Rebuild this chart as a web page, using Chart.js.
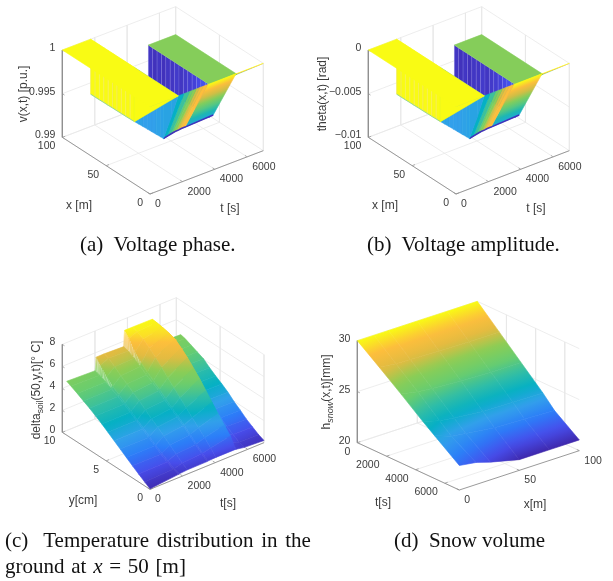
<!DOCTYPE html>
<html>
<head>
<meta charset="utf-8">
<script src="https://cdn.jsdelivr.net/npm/chart.js@4"></script>
<style>
html, body { margin: 0; background: #fff; }
#page { position: relative; width: 613px; height: 581px; overflow: hidden; filter: blur(.35px); }
canvas { position: absolute; }
.cap { position: absolute; font: 21px "Liberation Serif", serif; color: #111; white-space: pre; }
</style>
</head>
<body>
<div id="page">
  <canvas id="chartA" style="left:0;top:0" width="306" height="235"></canvas>
  <canvas id="chartB" style="left:306px;top:0" width="306" height="235"></canvas>
  <canvas id="chartC" style="left:0;top:280px" width="300" height="235"></canvas>
  <canvas id="chartD" style="left:300px;top:280px" width="313" height="235"></canvas>
  <div class="cap" style="left:80px;top:232px">(a)  Voltage phase.</div>
  <div class="cap" style="left:367px;top:232px">(b)  Voltage amplitude.</div>
  <div class="cap" style="left:5px;top:528px;word-spacing:2.4px">(c)  Temperature distribution in the</div>
  <div class="cap" style="left:5px;top:554px;word-spacing:1.5px">ground at <i>x</i> = 50 [m]</div>
  <div class="cap" style="left:394px;top:528px">(d)  Snow volume</div>
</div>
<script>
// panels a and b: the wall at the first step, x from 100 to 0
const wallX = [100,95,90,85,80,75,70,65,60,55,50,45,40,35,30,25,20,17,8,0];
const vWallFloor = [.9937,.9937,.9937,.99372,.99372,.99374,.99374,.99376,.99376,.99378,.9938,.99383,.99386,.99389,.99392,.99395,.99398,.994,.997,1];
const thetaWallFloor = [-.0063,-.0063,-.0063,-.00628,-.00628,-.00626,-.00626,-.00624,-.00624,-.00622,-.0062,-.00617,-.00614,-.00611,-.00608,-.00605,-.00602,-.006,-.003,0];
const wallShade = [1,1,1,1,1,1,1,1,1,1,.31,.31,.3,.3,.3,.31,.31,.32,.32];
// wall at the second step
const backX = [100,95,90,85,80,75,70,65,60,55,50,45,40,35,30];
const backShade = [.04,.03,.04,.03,.04,.04,.05,.04,.05,.06,.07,.09,.11,.14,.18];
const vBackFloor = .993, thetaBackFloor = -.007;
const vGreen = .9968, thetaGreen = -.0032;
// slope between the valley and x=0
const slopeT = [1750,2100,2450,2660,2870,3080,3290,3570,5312];
const slopeX = [17,19,21,22,23,24,25,26,26];
const vSlope = [.994,.9939,.9938,.99375,.9937,.9936,.99355,.99344,.9936];
const thetaSlope = [-.006,-.0061,-.0062,-.00625,-.0063,-.0064,-.00645,-.00656,-.0064];
const slopeShade = [.40,.52,.62,.70,.78,.85,.90];
const stepT = [0,1750,5312,7000];
const lineGreenX = 30;

// panel c
const soilY = [9.5,9,8.3,7.6,6.9,6.2,5.5,4.8,4.1,3.4,2.7,2,1.3,.6,0];
const soilT = [0,1750,1800,2300,3500,3550,4050,5250,5300,5800,7000];
const soilTemp = [
  [4.9,4.8,6.0,6.0,5.93,7.38,7.38,7.36,5.0,4.95,4.9],
  [4.7,4.65,5.5,5.85,5.8,6.9,7.2,7.32,4.95,4.85,4.8],
  [4.42,4.4,4.85,5.45,5.5,6.0,6.9,7.22,4.7,4.6,4.55],
  [4.1,4.1,4.35,5.0,5.1,5.4,6.45,7.1,4.45,4.35,4.3],
  [3.8,3.8,3.95,4.6,4.7,4.95,5.95,6.9,4.2,4.1,4.05],
  [3.45,3.45,3.55,4.2,4.35,4.5,5.4,6.45,3.8,3.65,3.6],
  [3.1,3.1,3.15,3.8,4.0,4.1,4.85,5.95,3.4,3.25,3.2],
  [2.7,2.7,2.75,3.35,3.5,3.6,4.3,5.35,3.0,2.9,2.85],
  [2.3,2.3,2.35,2.9,3.1,3.15,3.75,4.75,2.6,2.5,2.45],
  [1.9,1.9,1.95,2.5,2.7,2.75,3.2,4.05,2.15,2.0,1.95],
  [1.5,1.5,1.55,2.05,2.25,2.3,2.65,3.35,1.75,1.6,1.55],
  [1.1,1.1,1.15,1.6,1.75,1.8,2.1,2.65,1.35,1.15,1.1],
  [.72,.75,.8,1.15,1.25,1.3,1.55,2.0,1.0,.8,.75],
  [.35,.45,.47,.7,.8,.82,1.0,1.35,.7,.45,.4],
  [.05,.3,.32,.38,.4,.42,.45,.45,.43,.3,.2]
];
const wallRows = [0,1,2];
const wallCols = [1,4];

// panel d
const snowX = [0,14,26,50,75,100];
const snowT = [0,1500,3000,4500,5300,7000];
const snowH = [
  [30,30,30,30,30,30],
  [28.4,28.2,28.15,28.05,28.0,28.0],
  [26.75,26.45,26.3,26.1,26.0,26.0],
  [25.05,24.6,24.4,24.1,24.05,24.0],
  [24.2,23.6,23.4,23.05,22.95,22.8],
  [22.4,22.16,21.73,21.05,21.05,21.05]
];

const vTicks = [.99,.995,1], vLabels = ['0.99','0.995','1'];
const thetaTicks = [-.01,-.005,0], thetaLabels = ['\u22120.01','\u22120.005','0'];
const xTicks = [0,50,100], xLabels = ['0','50','100'];
const tTicks = [0,2000,4000,6000], tLabels = ['0','2000','4000','6000'];
const soilTicks = [0,2,4,6,8], soilLabels = ['0','2','4','6','8'];
const yTicks = [0,5,10], yLabels = ['0','5','10'];
const snowTicks = [20,25,30], snowLabels = ['20','25','30'];

// parula
const parulaStops = [[62,38,168],[71,77,235],[44,125,248],[50,160,235],[5,176,196],[50,190,165],[105,205,110],[140,205,85],[225,187,65],[253,190,60],[249,251,20]];
function parula(f) {
    f = Math.min(1, Math.max(0, f)) * 10;
    const i = Math.min(9, Math.floor(f)), k = f - i;
    const a = parulaStops[i], b = parulaStops[i + 1];
    return 'rgb(' + a.map((c, n) => Math.round(c + (b[n] - c) * k)).join(',') + ')';
}

function makePanel(cfg) {
    const p = Object.assign({ sets: [], texts: [] }, cfg);
    p.ctx = document.getElementById(cfg.id).getContext('2d');
    p.at = (u, v, w) => ({ x: p.ox + p.ux * u + p.vx * v, y: p.oy + p.uy * u + p.vy * v - p.h * w });
    p.pt = (a, b, z) => { const m = p.map(a, b, z); return p.at(m[0], m[1], m[2]); };
    return p;
}

function addPoly(p, pts, color, edge, edgeW) {
    p.sets.push({
        data: pts.concat([pts[0]]), showLine: true, fill: 'shape', tension: 0, pointRadius: 0, clip: false,
        backgroundColor: color, borderColor: edge || color, borderWidth: edgeW === undefined ? .6 : edgeW
    });
}
function addLine(p, pts, color, w) {
    p.sets.push({ data: pts, showLine: true, fill: false, tension: 0, pointRadius: 0, clip: false, borderColor: color, borderWidth: w });
}

// fills a face with the colormap running across its own slope
function shaded(p, pts, vals, contrast) {
    const n = pts.length;
    const mx = pts.reduce((s, q) => s + q.x, 0) / n, my = pts.reduce((s, q) => s + q.y, 0) / n, mz = vals.reduce((s, q) => s + q, 0) / n;
    if (contrast) vals = vals.map(q => mz + (q - mz) * contrast);
    let sxx = 0, sxy = 0, syy = 0, sxz = 0, syz = 0;
    pts.forEach((q, i) => {
        const dx = q.x - mx, dy = q.y - my, dz = vals[i] - mz;
        sxx += dx * dx; sxy += dx * dy; syy += dy * dy; sxz += dx * dz; syz += dy * dz;
    });
    const det = sxx * syy - sxy * sxy;
    const lo = Math.min(...vals), hi = Math.max(...vals);
    if (Math.abs(det) < 1e-6 || hi - lo < 1e-6) return parula(p.shade(mz));
    const ga = (syy * sxz - sxy * syz) / det, gb = (sxx * syz - sxy * sxz) / det, g2 = ga * ga + gb * gb;
    const grad = p.ctx.createLinearGradient(mx + ga * (lo - mz) / g2, my + gb * (lo - mz) / g2, mx + ga * (hi - mz) / g2, my + gb * (hi - mz) / g2);
    for (let i = 0; i <= 6; i++) grad.addColorStop(i / 6, parula(p.shade(lo + (hi - lo) * i / 6)));
    return grad;
}

function addBox(p, uTicks, uLabels, vTickVals, vLabelsIn, zTicks, zLabels, uOf, vOf, wOf) {
    const gridC = '#e8e8e8', axisC = '#8e8e8e';
    zTicks.forEach((z, i) => {
        const w = wOf(z);
        addLine(p, [p.at(0, 0, w), p.at(0, 1, w), p.at(1, 1, w)], gridC, .8);
        addLine(p, [p.at(0, 0, w), p.at(.025, 0, w)], axisC, .7);
        p.texts.push({ text: zLabels[i], pos: p.at(0, 0, w), dx: -7, dy: -2, align: 'right' });
    });
    vTickVals.forEach((t, i) => {
        const v = vOf(t);
        addLine(p, [p.at(0, v, 1), p.at(0, v, 0), p.at(1, v, 0)], gridC, .8);
        addLine(p, [p.at(1, v, 0), p.at(.975, v, 0)], axisC, .7);
        p.texts.push({ text: vLabelsIn[i], pos: p.at(1, v, 0), dx: 5, dy: 10, align: 'left' });
    });
    uTicks.forEach((x, i) => {
        const u = uOf(x);
        addLine(p, [p.at(u, 1, 1), p.at(u, 1, 0), p.at(u, 0, 0)], gridC, .8);
        addLine(p, [p.at(u, 0, 0), p.at(u, .025, 0)], axisC, .7);
        p.texts.push({ text: uLabels[i], pos: p.at(u, 0, 0), dx: -7, dy: 9, align: 'right' });
    });
    addLine(p, [p.at(0, 0, 1), p.at(0, 0, 0), p.at(1, 0, 0), p.at(1, 1, 0)], axisC, .9);
}

function addVoltage(p, floor, backFloor, top, green, slope) {
    const pt = p.pt;
    // wall at the second step
    for (let i = 0; i + 1 < backX.length; i++) {
        const c = parula(backShade[i]);
        addPoly(p, [pt(backX[i], stepT[2], green), pt(backX[i + 1], stepT[2], green), pt(backX[i + 1], stepT[2], backFloor), pt(backX[i], stepT[2], backFloor)], c, 'rgba(150,140,235,.3)', .5);
    }
    // green top and the wedge up to x=0
    addPoly(p, [pt(100, stepT[2], green), pt(100, stepT[3], green), pt(lineGreenX, stepT[3], green), pt(lineGreenX, stepT[2], green)], parula(p.shade(green)));
    const wedge = [pt(lineGreenX, stepT[2], green), pt(lineGreenX, stepT[3], green), pt(0, stepT[3], top), pt(0, stepT[2], top)];
    addPoly(p, wedge, shaded(p, wedge, [green, green, top, top]));
    // underside of the slope, last part smooth
    const n = slopeT.length - 1;
    const last = [pt(slopeX[n - 1], slopeT[n - 1], slope[n - 1]), pt(slopeX[n], slopeT[n], slope[n]), pt(0, slopeT[n], top), pt(0, slopeT[n - 1], top)];
    addPoly(p, last, shaded(p, last, [slope[n - 1], slope[n], top, top]));
    for (let i = n - 2; i >= 0; i--) {
        addPoly(p, [pt(slopeX[i], slopeT[i], slope[i]), pt(slopeX[i + 1], slopeT[i + 1], slope[i + 1]), pt(0, slopeT[i + 1], top), pt(0, slopeT[i], top)], parula(slopeShade[i]));
    }
    addLine(p, slopeX.map((x, i) => pt(x, slopeT[i], slope[i])), parula(.03), 1.6);
    // wall at the first step
    for (let i = 0; i + 1 < wallX.length; i++) {
        addPoly(p, [pt(wallX[i], stepT[1], floor[i]), pt(wallX[i + 1], stepT[1], floor[i + 1]), pt(wallX[i + 1], stepT[1], top), pt(wallX[i], stepT[1], top)], parula(wallShade[i]), wallShade[i] === 1 ? '#f4ee55' : parula(wallShade[i]), .4);
    }
    addLine(p, wallX.slice(0, 11).map((x, i) => pt(x, stepT[1], floor[i])), '#7ccfa0', .8);
    // yellow top
    addPoly(p, [pt(50, stepT[1], floor[10]), pt(0, stepT[1], top), pt(0, stepT[0], top), pt(50, stepT[1], top)], parula(1));
    addPoly(p, [pt(100, stepT[0], top), pt(100, stepT[1], top), pt(0, stepT[1], top), pt(0, stepT[0], top)], parula(1));
}

// grid surface, faces sorted back to front
function addSurface(p, rows, cols, val, depth, contrast, isWall) {
    const faces = [];
    for (let r = 0; r + 1 < rows.length; r++) {
        for (let c = 0; c + 1 < cols.length; c++) {
            const pts = [[r, c], [r, c + 1], [r + 1, c + 1], [r + 1, c]];
            faces.push({ r, c, pts, d: depth(rows[r] / 2 + rows[r + 1] / 2, cols[c] / 2 + cols[c + 1] / 2) });
        }
    }
    faces.sort((a, b) => a.d - b.d);
    faces.forEach(f => {
        const verts = f.pts.map(q => p.pt(rows[q[0]], cols[q[1]], val[q[0]][q[1]]));
        const vals = f.pts.map(q => val[q[0]][q[1]]);
        addPoly(p, verts, shaded(p, verts, vals, contrast));
        // mesh lines showing through on the steep steps
        if (isWall && isWall(f.r, f.c)) {
            for (let k = 0; k < 5; k++) {
                const s = k / 5, a = verts[0], b = verts[1], d = verts[3], e = verts[2];
                addLine(p, [{ x: a.x + (d.x - a.x) * s, y: a.y + (d.y - a.y) * s }, { x: b.x + (e.x - b.x) * s, y: b.y + (e.y - b.y) * s }], 'rgba(255,255,255,.75)', .5);
            }
        }
    });
}

// text plugin: tick labels and axis titles
const textPlugin = {
    id: 'panelText',
    afterDatasetsDraw(chart, args, opts) {
        const ctx = chart.ctx, p = opts.panel;
        ctx.save();
        ctx.fillStyle = '#3c3c3c';
        ctx.font = '10.5px "Liberation Sans"';
        ctx.textBaseline = 'middle';
        p.texts.forEach(t => {
            ctx.textAlign = t.align;
            ctx.fillText(t.text, chart.scales.x.getPixelForValue(t.pos.x + t.dx), chart.scales.y.getPixelForValue(t.pos.y + t.dy));
        });
        ctx.textAlign = 'left';
        ctx.textBaseline = 'alphabetic';
        p.titles.forEach(t => {
            ctx.save();
            ctx.translate(t.x, t.y);
            if (t.rot) ctx.rotate(-Math.PI / 2);
            const width = t.parts.reduce((s, q) => { ctx.font = q.font; return s + ctx.measureText(q.text).width; }, 0);
            let pen = -width / 2;
            t.parts.forEach(q => {
                ctx.font = q.font;
                ctx.fillText(q.text, pen, 4 + (q.drop || 0));
                pen += ctx.measureText(q.text).width;
            });
            ctx.restore();
        });
        ctx.restore();
    }
};

function draw(p) {
    const canvas = document.getElementById(p.id);
    new Chart(canvas, {
        type: 'scatter',
        data: { datasets: p.sets.slice().reverse() },
        plugins: [textPlugin],
        options: {
            responsive: false, animation: false, events: [],
            layout: { padding: 0 },
            scales: {
                x: { display: false, min: 0, max: canvas.width },
                y: { display: false, min: 0, max: canvas.height, reverse: true }
            },
            plugins: { legend: { display: false }, tooltip: { enabled: false }, panelText: { panel: p } }
        }
    });
}

const FONT = '12px "Liberation Sans"', SUB = '8.5px "Liberation Sans"', SUBI = 'italic 9px "Liberation Sans"';

function voltagePanel(id, zLow, ticks, labels, floor, backFloor, top, green, slope, zTitle, zTitleX) {
    const p = makePanel({
        id, ox: 62.33, oy: 137.33, ux: 87.67, uy: 56.67, vx: 113.33, vy: -43.33, h: 87.33,
        map: (x, t, z) => [1 - x / 100, t / 7000, (z - zLow) / .01],
        shade: z => (z - zLow) / .01
    });
    addBox(p, xTicks, xLabels, tTicks, tLabels, ticks, labels, x => 1 - x / 100, t => t / 7000, z => (z - zLow) / .01);
    addVoltage(p, floor, backFloor, top, green, slope);
    p.titles = [
        { x: 79, y: 205, parts: [{ text: 'x [m]', font: FONT }] },
        { x: 230, y: 208, parts: [{ text: 't [s]', font: FONT }] },
        { x: zTitleX, y: 94, rot: true, parts: [{ text: zTitle, font: FONT }] }
    ];
    draw(p);
}

voltagePanel('chartA', .99, vTicks, vLabels, vWallFloor, vBackFloor, 1, vGreen, vSlope, 'v(x,t) [p.u.]', 22.5);
voltagePanel('chartB', -.01, thetaTicks, thetaLabels, thetaWallFloor, thetaBackFloor, 0, thetaGreen, thetaSlope, 'theta(x,t) [rad]', 16);

const panelC = makePanel({
    id: 'chartC', ox: 62.33, oy: 152.33, ux: 87.67, uy: 57, vx: 114, vy: -46.67, h: 88,
    map: (y, t, z) => [1 - y / 10, t / 7000, z / 8],
    shade: z => z / 7.4
});
addBox(panelC, yTicks, yLabels, tTicks, tLabels, soilTicks, soilLabels, y => 1 - y / 10, t => t / 7000, z => z / 8);
addSurface(panelC, soilY, soilT, soilTemp, (y, t) => 57 * (1 - y / 10) - 46.67 * t / 7000, .75,
    (r, c) => wallRows.includes(r) && wallCols.includes(c));
panelC.titles = [
    { x: 83, y: 220, parts: [{ text: 'y[cm]', font: FONT }] },
    { x: 228, y: 223, parts: [{ text: 't[s]', font: FONT }] },
    { x: 36, y: 110, rot: true, parts: [{ text: 'delta', font: FONT }, { text: 'soil', font: SUB, drop: 3 }, { text: '(50,y,t)[\u00b0 C]', font: FONT }] }
];
draw(panelC);

const panelD = makePanel({
    id: 'chartD', ox: 57.33, oy: 162.67, ux: 102, uy: 47.33, vx: 120, vy: -39.33, h: 102,
    map: (t, x, z) => [t / 7000, x / 100, (z - 20) / 10],
    shade: z => (z - 21) / 9
});
addBox(panelD, tTicks, tLabels, xTicks, xLabels, snowTicks, snowLabels, t => t / 7000, x => x / 100, z => (z - 20) / 10);
addSurface(panelD, snowT, snowX, snowH, (t, x) => 47 * t / 7000 - 39 * x / 100);
panelD.titles = [
    { x: 83, y: 222, parts: [{ text: 't[s]', font: FONT }] },
    { x: 235, y: 224, parts: [{ text: 'x[m]', font: FONT }] },
    { x: 26, y: 112, rot: true, parts: [{ text: 'h', font: FONT }, { text: 'snow', font: SUBI, drop: 3 }, { text: '(x,t)[mm]', font: FONT }] }
];
draw(panelD);
</script>
</body>
</html>
